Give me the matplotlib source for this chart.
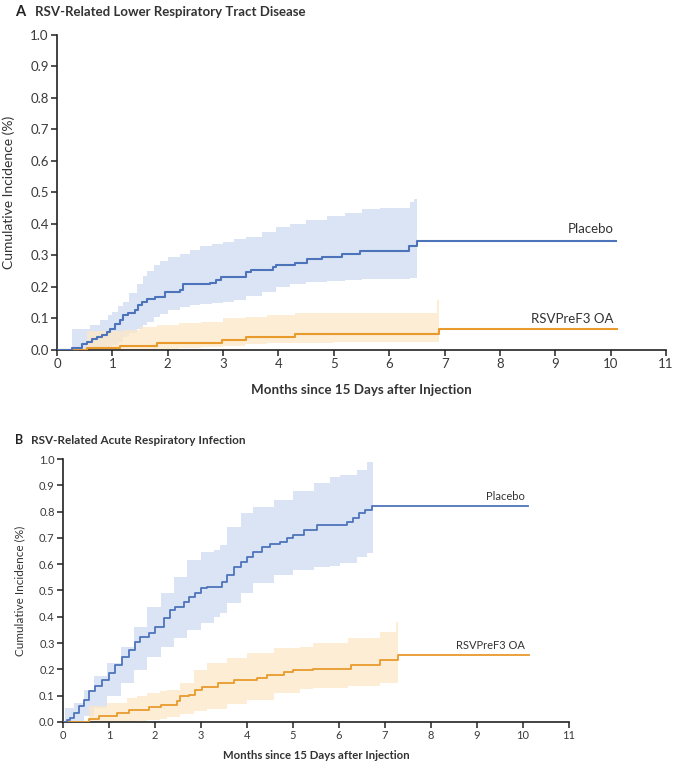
#===============================================================================
# CUMULATIVE INCIDENCE PLOTS (RSV-RELATED LRTD AND ARI)
#===============================================================================

# 1.IMPORT MODULES

import numpy as np
import matplotlib.pyplot as plt

plt.rcParams['font.family'] = ['Lato', 'DejaVu Sans']

#===============================================================================
# 2.DATA (MONTHS, CUMULATIVE INCIDENCE %)

# PANEL A - PLACEBO STEP CURVE
aPlacT = [0.00, 0.28, 0.45, 0.54, 0.63, 0.72, 0.81, 0.90, 0.96, 1.05, 1.14, 1.20,
          1.29, 1.41, 1.47, 1.54, 1.62, 1.77, 1.95, 2.22, 2.28, 2.76, 2.88, 2.97,
          3.42, 3.51, 3.90, 3.96, 4.30, 4.51, 4.78, 5.14, 5.47, 6.35, 6.50, 10.10]
aPlacY = [0.000, 0.007, 0.018, 0.026, 0.034, 0.040, 0.047, 0.058, 0.068, 0.082, 0.095, 0.110,
          0.116, 0.128, 0.142, 0.153, 0.163, 0.168, 0.184, 0.190, 0.210, 0.212, 0.222, 0.233,
          0.249, 0.254, 0.265, 0.270, 0.277, 0.288, 0.296, 0.305, 0.315, 0.330, 0.347, 0.347]

# PANEL A - PLACEBO 95% CI
aPlacBandT = [0.28, 0.60, 0.78, 0.93, 0.99, 1.10, 1.20, 1.30, 1.44, 1.55, 1.62, 1.75, 1.86,
              2.00, 2.22, 2.40, 2.58, 2.80, 3.00, 3.20, 3.42, 3.70, 3.96, 4.20, 4.50, 4.87,
              5.20, 5.50, 5.83, 6.38, 6.45, 6.50]
aPlacBandHi = [0.068, 0.079, 0.095, 0.110, 0.120, 0.140, 0.153, 0.180, 0.210, 0.235, 0.250, 0.270, 0.284,
               0.295, 0.305, 0.318, 0.330, 0.335, 0.344, 0.352, 0.360, 0.375, 0.390, 0.400, 0.413, 0.425,
               0.435, 0.447, 0.450, 0.470, 0.480, 0.480]
aPlacBandLo = [0.000, 0.000, 0.000, 0.005, 0.015, 0.026, 0.040, 0.053, 0.066, 0.079, 0.090, 0.105, 0.115,
               0.128, 0.135, 0.142, 0.145, 0.148, 0.152, 0.160, 0.170, 0.185, 0.200, 0.208, 0.217, 0.220,
               0.222, 0.224, 0.226, 0.228, 0.228, 0.228]

# PANEL A - RSVPREF3 OA STEP CURVE
aVaccT = [0.00, 0.55, 1.14, 1.80, 2.98, 3.42, 4.30, 6.90, 10.12]
aVaccY = [0.000, 0.007, 0.014, 0.023, 0.032, 0.042, 0.051, 0.067, 0.067]

# PANEL A - RSVPREF3 OA 95% CI
aVaccBandT = [0.55, 1.20, 1.50, 1.80, 2.20, 2.60, 3.00, 3.40, 3.80, 4.30, 5.00, 6.86, 6.90]
aVaccBandHi = [0.060, 0.065, 0.074, 0.079, 0.085, 0.090, 0.100, 0.105, 0.112, 0.116, 0.118, 0.160, 0.160]
aVaccBandLo = [0.000, 0.000, 0.000, 0.003, 0.006, 0.010, 0.013, 0.019, 0.021, 0.023, 0.025, 0.025, 0.025]

# PANEL B - PLACEBO STEP CURVE
bPlacT = [0.00, 0.09, 0.16, 0.23, 0.34, 0.45, 0.56, 0.70, 0.85, 0.99, 1.14, 1.28, 1.43, 1.57,
          1.68, 1.86, 2.00, 2.19, 2.33, 2.44, 2.62, 2.73, 2.88, 2.99, 3.13, 3.46, 3.57, 3.71,
          3.86, 4.00, 4.14, 4.33, 4.51, 4.72, 4.87, 5.01, 5.23, 5.52, 6.17, 6.30, 6.43, 6.56,
          6.72, 10.10]
bPlacY = [0.000, 0.008, 0.015, 0.034, 0.060, 0.085, 0.116, 0.135, 0.160, 0.186, 0.217, 0.249, 0.274, 0.306,
          0.325, 0.338, 0.363, 0.394, 0.426, 0.439, 0.458, 0.477, 0.489, 0.508, 0.515, 0.533, 0.559, 0.590,
          0.609, 0.626, 0.647, 0.664, 0.676, 0.685, 0.698, 0.710, 0.730, 0.748, 0.761, 0.774, 0.793, 0.805,
          0.820, 0.820]

# PANEL B - PLACEBO 95% CI
bPlacBandT = [0.05, 0.23, 0.45, 0.67, 0.96, 1.25, 1.54, 1.83, 2.12, 2.41, 2.70, 2.99, 3.28,
              3.42, 3.57, 3.86, 4.14, 4.58, 5.01, 5.45, 5.80, 6.03, 6.40, 6.60, 6.73]
bPlacBandHi = [0.053, 0.072, 0.123, 0.173, 0.224, 0.287, 0.363, 0.439, 0.489, 0.552, 0.616, 0.647, 0.654,
               0.672, 0.742, 0.793, 0.818, 0.843, 0.880, 0.910, 0.930, 0.940, 0.960, 0.990, 0.990]
bPlacBandLo = [0.000, 0.000, 0.021, 0.053, 0.097, 0.148, 0.198, 0.249, 0.287, 0.319, 0.350, 0.375, 0.400,
               0.413, 0.451, 0.489, 0.527, 0.559, 0.578, 0.590, 0.595, 0.603, 0.626, 0.641, 0.641]

# PANEL B - RSVPREF3 OA STEP CURVE
bVaccT = [0.00, 0.56, 0.78, 1.17, 1.43, 1.86, 2.12, 2.48, 2.55, 2.73, 2.88, 3.02, 3.38, 3.71,
          4.22, 4.43, 4.80, 5.01, 5.44, 6.27, 6.89, 7.29, 10.12]
bVaccY = [0.000, 0.011, 0.021, 0.034, 0.047, 0.057, 0.066, 0.078, 0.097, 0.104, 0.123, 0.133, 0.148, 0.158,
          0.167, 0.180, 0.190, 0.198, 0.202, 0.217, 0.234, 0.255, 0.255]

# PANEL B - RSVPREF3 OA 95% CI
bVaccBandT = [0.56, 0.96, 1.39, 1.60, 1.83, 2.10, 2.26, 2.55, 2.84, 3.13, 3.57, 4.00, 4.58,
              5.15, 5.44, 6.20, 6.89, 7.25, 7.29]
bVaccBandHi = [0.060, 0.072, 0.090, 0.100, 0.110, 0.118, 0.123, 0.148, 0.198, 0.224, 0.243, 0.262, 0.280,
               0.287, 0.300, 0.319, 0.344, 0.380, 0.380]
bVaccBandLo = [0.000, 0.000, 0.000, 0.003, 0.007, 0.012, 0.018, 0.030, 0.040, 0.050, 0.068, 0.085, 0.110,
               0.125, 0.129, 0.135, 0.150, 0.150, 0.150]

# LABELS
panelTitles = ["RSV-Related Lower Respiratory Tract Disease", "RSV-Related Acute Respiratory Infection"]
panelLetters = ["A", "B"]
seriesNames = ["Placebo", "RSVPreF3 OA"]
yTicks = [0.0, 0.1, 0.2, 0.3, 0.4, 0.5, 0.6, 0.7, 0.8, 0.9, 1.0]
xTicks = list(range(0, 12))

#===============================================================================
# 3.STYLE

blueLine = '#4d74bb'
blueBand = '#dbe4f5'
orangeLine = '#e99a2c'
orangeBand = '#fde7c6'

#===============================================================================
# 4.PLOT

fig = plt.figure(figsize=(6.76, 7.64), dpi=100)
axA = fig.add_axes([0.0843, 0.5419, 0.9010, 0.4123])
axB = fig.add_axes([0.0932, 0.0550, 0.7485, 0.3442])


def draw_panel(ax, placT, placY, placBT, placHi, placLo,
               vaccT, vaccY, vaccBT, vaccHi, vaccLo,
               placLabelY, vaccLabelY, fs, lw):
    # CONFIDENCE BANDS
    ax.fill_between(placBT, placLo, placHi, step='post', color=blueBand, lw=0, zorder=1)
    ax.fill_between(vaccBT, vaccLo, vaccHi, step='post', color=orangeBand, lw=0, alpha=0.75, zorder=2)
    # STEP CURVES
    ax.step(vaccT, vaccY, where='post', color=orangeLine, lw=lw, zorder=3)
    ax.step(placT, placY, where='post', color=blueLine, lw=lw, zorder=4)
    # CURVE LABELS
    ax.text(10.05, placLabelY, seriesNames[0], ha='right', va='center', fontsize=fs, color='#333333')
    ax.text(10.05, vaccLabelY, seriesNames[1], ha='right', va='center', fontsize=fs, color='#333333')
    # AXES
    ax.set_xlim(0, 11)
    ax.set_ylim(0, 1.0)
    ax.set_xticks(xTicks)
    ax.set_yticks(yTicks)
    ax.set_yticklabels(["%.1f" % v for v in yTicks])
    for s in ['top', 'right']:
        ax.spines[s].set_visible(False)
    for s in ['left', 'bottom']:
        ax.spines[s].set_linewidth(1.2)
        ax.spines[s].set_color('#222222')
    ax.tick_params(axis='both', length=4, width=1.1, color='#222222',
                   labelsize=fs, labelcolor='#3a3a3a', pad=2)


draw_panel(axA, aPlacT, aPlacY, aPlacBandT, aPlacBandHi, aPlacBandLo,
           aVaccT, aVaccY, aVaccBandT, aVaccBandHi, aVaccBandLo,
           0.385, 0.098, 9.5, 1.5)
draw_panel(axB, bPlacT, bPlacY, bPlacBandT, bPlacBandHi, bPlacBandLo,
           bVaccT, bVaccY, bVaccBandT, bVaccBandHi, bVaccBandLo,
           0.857, 0.290, 8, 1.3)

# AXIS LABELS
axA.set_xlabel("Months since 15 Days after Injection", fontsize=9.6, fontweight='bold',
               color='#333333', labelpad=10)
axA.set_ylabel("Cumulative Incidence (%)", fontsize=10, color='#333333', labelpad=11)
axB.set_xlabel("Months since 15 Days after Injection", fontsize=8.2, fontweight='bold',
               color='#333333', labelpad=6)
axB.set_ylabel("Cumulative Incidence (%)", fontsize=8.5, color='#333333', labelpad=10)

# PANEL TITLES
fig.text(15 / 676, 1 - 12 / 764, panelLetters[0], fontsize=10.5, fontweight='bold',
         color='#222222', va='center')
fig.text(35 / 676, 1 - 12 / 764, panelTitles[0], fontsize=9.5, fontweight='bold',
         color='#333333', va='center')
fig.text(15 / 676, 1 - 440 / 764, panelLetters[1], fontsize=9, fontweight='bold',
         color='#222222', va='center')
fig.text(31 / 676, 1 - 440 / 764, panelTitles[1], fontsize=8.5, fontweight='bold',
         color='#333333', va='center')

plt.savefig('out.png', dpi=100)
